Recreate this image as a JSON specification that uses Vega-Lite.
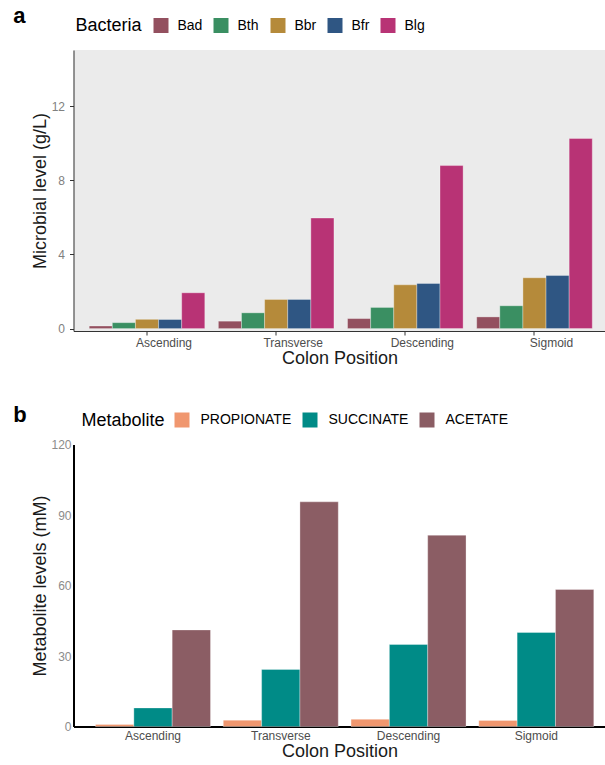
{
  "$schema": "https://vega.github.io/schema/vega-lite/v6.json",
  "background": "white",
  "padding": {"left": 12.5, "top": 5, "right": 0, "bottom": 0},
  "spacing": 36.5,
  "resolve": {
    "scale": {"x": "independent", "xOffset": "independent", "y": "independent", "color": "independent"},
    "axis": {"x": "independent", "y": "independent"},
    "legend": {"color": "independent"}
  },
  "config": {
    "font": "Liberation Sans",
    "view": {"stroke": null},
    "axis": {
      "grid": false,
      "labelFont": "Liberation Sans",
      "titleFont": "Liberation Sans",
      "titleFontWeight": "normal",
      "titleFontSize": 18,
      "titleColor": "#1A1A1A",
      "labelFontSize": 12
    },
    "legend": {
      "labelFont": "Liberation Sans",
      "titleFont": "Liberation Sans"
    }
  },
  "vconcat": [
    {
      "width": 532,
      "height": 281,
      "title": {
        "text": "a",
        "anchor": "start",
        "frame": "group",
        "fontSize": 22,
        "fontWeight": "bold",
        "color": "black",
        "baseline": "alphabetic",
        "dx": -60.3,
        "dy": 20,
        "offset": -7
      },
      "view": {"fill": "#EBEBEB", "stroke": null},
      "data": {
        "values": [
          {"position": "Ascending", "bacteria": "Bad", "level": 0.14},
          {"position": "Ascending", "bacteria": "Bth", "level": 0.32},
          {"position": "Ascending", "bacteria": "Bbr", "level": 0.5},
          {"position": "Ascending", "bacteria": "Bfr", "level": 0.49},
          {"position": "Ascending", "bacteria": "Blg", "level": 1.93},
          {"position": "Transverse", "bacteria": "Bad", "level": 0.4},
          {"position": "Transverse", "bacteria": "Bth", "level": 0.85},
          {"position": "Transverse", "bacteria": "Bbr", "level": 1.57},
          {"position": "Transverse", "bacteria": "Bfr", "level": 1.57},
          {"position": "Transverse", "bacteria": "Blg", "level": 5.96},
          {"position": "Descending", "bacteria": "Bad", "level": 0.54},
          {"position": "Descending", "bacteria": "Bth", "level": 1.14},
          {"position": "Descending", "bacteria": "Bbr", "level": 2.36},
          {"position": "Descending", "bacteria": "Bfr", "level": 2.43},
          {"position": "Descending", "bacteria": "Blg", "level": 8.79},
          {"position": "Sigmoid", "bacteria": "Bad", "level": 0.63},
          {"position": "Sigmoid", "bacteria": "Bth", "level": 1.23},
          {"position": "Sigmoid", "bacteria": "Bbr", "level": 2.74},
          {"position": "Sigmoid", "bacteria": "Bfr", "level": 2.86},
          {"position": "Sigmoid", "bacteria": "Blg", "level": 10.25}
        ]
      },
      "mark": {"type": "bar", "stroke": "white", "strokeWidth": 0.4, "strokeOpacity": 0.8},
      "encoding": {
        "x": {
          "field": "position",
          "type": "nominal",
          "sort": ["Ascending", "Transverse", "Descending", "Sigmoid"],
          "scale": {"paddingInner": 0.105, "paddingOuter": 0.112, "align": 0.543},
          "axis": {
            "title": "Colon Position",
            "labelAngle": 0,
            "labelOffset": 17,
            "labelColor": "#4D4D4D",
            "labelPadding": 2,
            "domainColor": "#333333",
            "domainWidth": 1,
            "tickColor": "#333333",
            "tickSize": 4,
            "titlePadding": 1
          }
        },
        "xOffset": {
          "field": "bacteria",
          "sort": ["Bad", "Bth", "Bbr", "Bfr", "Blg"],
          "scale": {"paddingInner": 0, "paddingOuter": 0}
        },
        "y": {
          "field": "level",
          "type": "quantitative",
          "scale": {"domain": [-0.13, 15.02], "nice": false, "zero": false},
          "axis": {
            "title": "Microbial level (g/L)",
            "values": [0, 4, 8, 12],
            "labelColor": "#808080",
            "labelPadding": 5,
            "domainColor": "#333333",
            "domainWidth": 1,
            "tickColor": "#333333",
            "tickSize": 4,
            "titlePadding": 1.8
          }
        },
        "y2": {"datum": 0},
        "color": {
          "field": "bacteria",
          "type": "nominal",
          "scale": {
            "domain": ["Bad", "Bth", "Bbr", "Bfr", "Blg"],
            "range": ["#93505F", "#3A8F62", "#B58A3A", "#2F5683", "#B83375"]
          },
          "legend": {
            "title": "Bacteria",
            "orient": "none",
            "legendX": 2,
            "legendY": -32,
            "direction": "horizontal",
            "titleOrient": "left",
            "titleFontSize": 18,
            "titleFontWeight": "normal",
            "titleColor": "black",
            "titlePadding": 11,
            "labelFontSize": 14,
            "labelColor": "black",
            "symbolType": "square",
            "symbolSize": 225,
            "symbolStrokeWidth": 0,
            "symbolOpacity": 1,
            "labelOffset": 9,
            "columnPadding": 11
          }
        }
      }
    },
    {
      "width": 532,
      "height": 282,
      "title": {
        "text": "b",
        "anchor": "start",
        "frame": "group",
        "fontSize": 22,
        "fontWeight": "bold",
        "color": "black",
        "baseline": "alphabetic",
        "dx": -60.3,
        "dy": 24,
        "offset": -7
      },
      "data": {
        "values": [
          {"position": "Ascending", "metabolite": "PROPIONATE", "level": 0.9},
          {"position": "Ascending", "metabolite": "SUCCINATE", "level": 7.9},
          {"position": "Ascending", "metabolite": "ACETATE", "level": 41.1},
          {"position": "Transverse", "metabolite": "PROPIONATE", "level": 2.7},
          {"position": "Transverse", "metabolite": "SUCCINATE", "level": 24.3},
          {"position": "Transverse", "metabolite": "ACETATE", "level": 95.6},
          {"position": "Descending", "metabolite": "PROPIONATE", "level": 3.1},
          {"position": "Descending", "metabolite": "SUCCINATE", "level": 34.9},
          {"position": "Descending", "metabolite": "ACETATE", "level": 81.4},
          {"position": "Sigmoid", "metabolite": "PROPIONATE", "level": 2.6},
          {"position": "Sigmoid", "metabolite": "SUCCINATE", "level": 40.0},
          {"position": "Sigmoid", "metabolite": "ACETATE", "level": 58.3}
        ]
      },
      "mark": {"type": "bar", "stroke": "white", "strokeWidth": 0.4, "strokeOpacity": 0.8},
      "encoding": {
        "x": {
          "field": "position",
          "type": "nominal",
          "sort": ["Ascending", "Transverse", "Descending", "Sigmoid"],
          "scale": {"paddingInner": 0.1, "paddingOuter": 0.132, "align": 0.653},
          "axis": {
            "title": "Colon Position",
            "labelAngle": 0,
            "labelColor": "#4D4D4D",
            "labelPadding": 4,
            "ticks": false,
            "domainColor": "black",
            "domainWidth": 2,
            "titlePadding": 1
          }
        },
        "xOffset": {
          "field": "metabolite",
          "sort": ["PROPIONATE", "SUCCINATE", "ACETATE"],
          "scale": {"paddingInner": 0, "paddingOuter": 0}
        },
        "y": {
          "field": "level",
          "type": "quantitative",
          "scale": {"domain": [0, 120], "nice": false},
          "axis": {
            "title": "Metabolite levels (mM)",
            "values": [0, 30, 60, 90, 120],
            "labelColor": "#8C8C8C",
            "labelPadding": 2.5,
            "ticks": false,
            "domainColor": "black",
            "domainWidth": 2,
            "titlePadding": 1.6
          }
        },
        "color": {
          "field": "metabolite",
          "type": "nominal",
          "scale": {
            "domain": ["PROPIONATE", "SUCCINATE", "ACETATE"],
            "range": ["#F0976F", "#008B87", "#8B5D64"]
          },
          "legend": {
            "title": "Metabolite",
            "orient": "none",
            "legendX": 8,
            "legendY": -32,
            "direction": "horizontal",
            "titleOrient": "left",
            "titleFontSize": 18,
            "titleFontWeight": "normal",
            "titleColor": "black",
            "titlePadding": 9,
            "labelFontSize": 14,
            "labelColor": "black",
            "symbolType": "square",
            "symbolSize": 225,
            "symbolStrokeWidth": 0,
            "symbolOpacity": 1,
            "labelOffset": 11,
            "columnPadding": 11
          }
        }
      }
    }
  ]
}
